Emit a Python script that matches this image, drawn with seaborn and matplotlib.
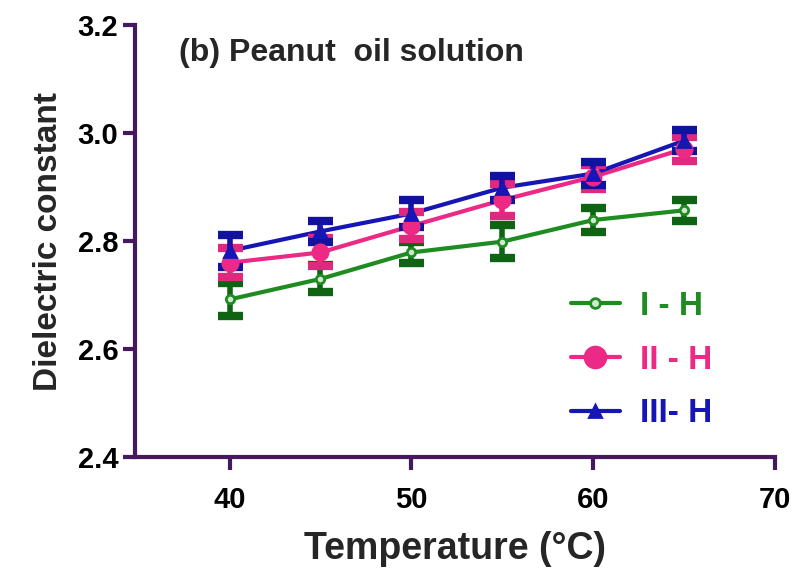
import numpy as np
import pandas as pd
import matplotlib
matplotlib.use("Agg")
import matplotlib.pyplot as plt
from matplotlib.lines import Line2D
import seaborn as sns

# Measured dielectric constant of peanut oil solutions vs temperature
temperature = [40, 45, 50, 55, 60, 65]
series_names = ["I - H", "II - H", "III- H"]
dc_I = [2.692, 2.730, 2.779, 2.799, 2.839, 2.857]
dc_II = [2.760, 2.779, 2.828, 2.876, 2.919, 2.971]
dc_III = [2.782, 2.818, 2.851, 2.899, 2.925, 2.986]
err_I = [0.030, 0.025, 0.020, 0.030, 0.023, 0.020]
err_II = [0.027, 0.026, 0.025, 0.030, 0.022, 0.022]
err_III = [0.030, 0.020, 0.025, 0.022, 0.022, 0.020]

x_ticks = [40, 50, 60, 70]
y_ticks = [2.4, 2.6, 2.8, 3.0, 3.2]

line_colors = ["#1f8c22", "#ec2a86", "#1616b4"]
bar_colors = ["#0f6414", "#e0287e", "#12129e"]
markers = ["o", "o", "^"]
marker_sizes = [6, 11, 8]
legend_marker_sizes = [7, 15, 9]
marker_faces = ["#cfe8cf", "#ec2a86", "#1616b4"]

sns.set_style("ticks")
plt.rcParams["font.family"] = ["Liberation Sans", "DejaVu Sans"]
plt.rcParams["font.weight"] = "bold"

df = pd.DataFrame({
    "Temperature": temperature * 3,
    "Dielectric": dc_I + dc_II + dc_III,
    "Sample": sum([[n] * len(temperature) for n in series_names], []),
})

fig = plt.figure(figsize=(7.99, 5.70), dpi=100)
ax = fig.add_axes([0.169, 0.198, 0.801, 0.758])

sns.lineplot(data=df, x="Temperature", y="Dielectric", hue="Sample",
             palette=dict(zip(series_names, line_colors)), linewidth=3,
             legend=False, ax=ax, zorder=3)

for vals, errs, bc, lc, mk, ms, mf in zip([dc_I, dc_II, dc_III],
                                          [err_I, err_II, err_III],
                                          bar_colors, line_colors, markers,
                                          marker_sizes, marker_faces):
    ax.errorbar(temperature, vals, yerr=errs, fmt="none", ecolor=bc,
                elinewidth=4, capsize=9, capthick=6, zorder=4)
    ax.plot(temperature, vals, linestyle="none", marker=mk, markersize=ms,
            markerfacecolor=mf, markeredgecolor=lc, markeredgewidth=2, zorder=5)

ax.set_xlim(34.8, 70)
ax.set_ylim(2.4, 3.2)
ax.set_xticks(x_ticks)
ax.set_yticks(y_ticks)
ax.set_xticklabels([str(t) for t in x_ticks])
ax.set_yticklabels([f"{t:.1f}" for t in y_ticks])

spine_color = "#45185f"
for side in ["top", "right"]:
    ax.spines[side].set_visible(False)
for side in ["left", "bottom"]:
    ax.spines[side].set_color(spine_color)
    ax.spines[side].set_linewidth(3)
ax.tick_params(axis="both", colors=spine_color, width=3, length=9,
               labelsize=21, labelcolor="black", direction="out")
for lab in ax.get_xticklabels() + ax.get_yticklabels():
    lab.set_fontweight("bold")
ax.tick_params(axis="x", pad=12)
ax.tick_params(axis="y", pad=3)

ax.set_xlabel("Temperature (°C)", fontsize=27, fontweight="bold", labelpad=12)
ax.set_ylabel("Dielectric constant", fontsize=24, fontweight="bold", labelpad=10)

ax.text(0.068, 0.97, "(b) Peanut  oil solution", transform=ax.transAxes,
        fontsize=23, fontweight="bold", va="top", ha="left")

handles = [Line2D([0], [0], color=lc, linewidth=3, marker=mk, markersize=ms,
                  markerfacecolor=mf, markeredgecolor=lc, markeredgewidth=2)
           for lc, mk, ms, mf in zip(line_colors, markers, legend_marker_sizes,
                                      marker_faces)]
leg = ax.legend(handles, series_names, loc="lower right",
                bbox_to_anchor=(0.948, -0.005), frameon=False, fontsize=24,
                handlelength=1.45, labelspacing=0.68, handletextpad=0.6)
for txt, c in zip(leg.get_texts(), line_colors):
    txt.set_color(c)
    txt.set_fontweight("bold")

fig.savefig("out.png", dpi=100)
